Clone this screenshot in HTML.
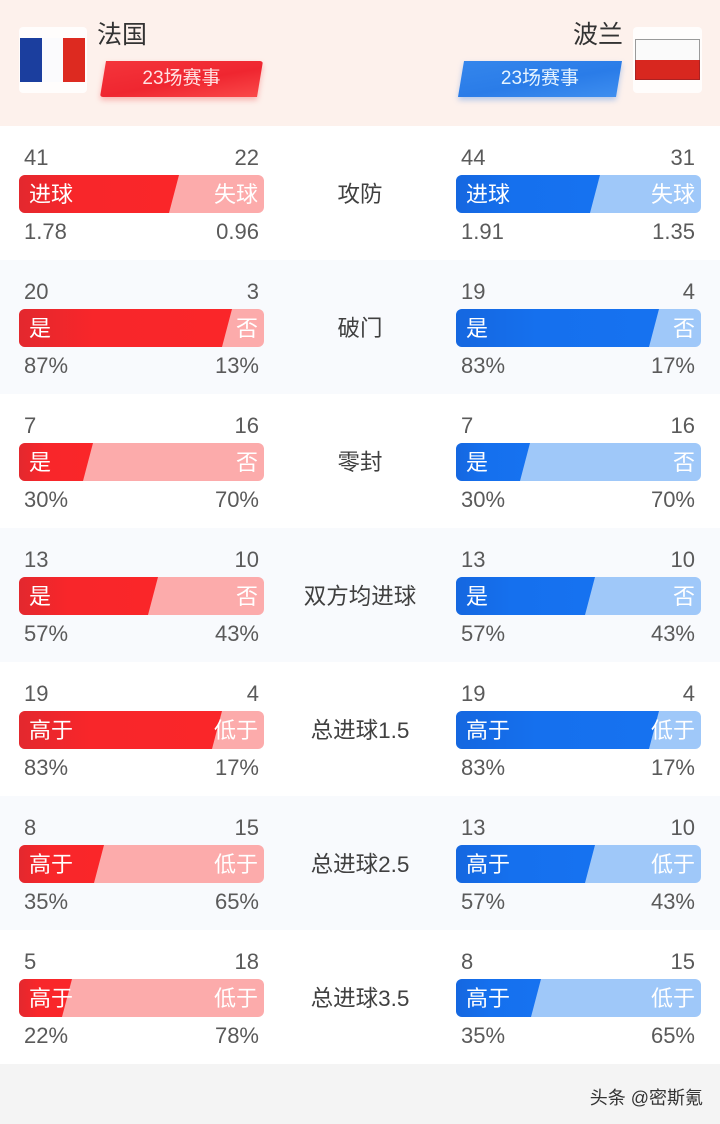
<!DOCTYPE html>
<html><head><meta charset="utf-8">
<style>
*{margin:0;padding:0;box-sizing:border-box}
body{width:720px;height:1124px;position:relative;background:#fff;font-family:"Liberation Sans","Noto Sans CJK SC",sans-serif;overflow:hidden}
.abs{position:absolute}
.hdr{left:0;top:0;width:720px;height:126px;background:#fdf1ec}
.row{position:absolute;left:0;width:720px;height:134px}
.alt{background:#f8fafd}
.n{position:absolute;font-size:22px;line-height:22px;color:#5a5a5a;white-space:nowrap}
.bar{position:absolute;width:245px;height:38px;border-radius:6px;overflow:hidden}
.bar .d{position:absolute;left:0;top:0;height:38px}
.bar .l,.bar .r{position:absolute;top:1px;height:38px;line-height:38px;font-size:22px;color:#fff;font-family:"Liberation Sans","Noto Sans CJK SC",sans-serif}
.bar .l{left:10px}
.bar .r{right:6px}
.rb{background:#fcabab}
.rb .d{background:linear-gradient(90deg,#e3282e 0%,#f8262a 35%,#fa2629 100%)}
.bb{background:#9fc8f9}
.bb .d{background:linear-gradient(90deg,#1567e0 0%,#1570ee 40%,#1672f0 100%)}
.c{position:absolute;left:270px;width:180px;text-align:center;height:38px;line-height:38px;font-size:22.5px;color:#404040}
</style></head><body>
<div class="abs hdr"></div>
<!-- France -->
<div class="abs" style="left:19px;top:27px;width:68px;height:66px;background:#fff;border-radius:4px;opacity:.85"></div>
<div class="abs" style="left:20px;top:38px;width:22px;height:44px;background:#1b3e9e"></div>
<div class="abs" style="left:42px;top:38px;width:21px;height:44px;background:#fbfbfd"></div>
<div class="abs" style="left:63px;top:38px;width:22px;height:44px;background:#dd2a20"></div>
<div class="abs" style="left:97px;top:18px;font-size:25px;line-height:30px;color:#333;font-family:'Noto Sans CJK SC',sans-serif">法国</div>
<div class="abs" style="left:100px;top:61px;width:163px;height:36px;filter:drop-shadow(0 3px 3px rgba(240,60,60,.35))">
 <div style="width:163px;height:36px;clip-path:polygon(6px 0,163px 0,157px 100%,0 100%);background:linear-gradient(170deg,#f4353b 0%,#ef2630 55%,#fb4a4a 100%);border-radius:3px"></div>
</div>
<div class="abs" style="left:100px;top:61px;width:163px;height:36px;line-height:36px;text-align:center;font-size:19px;color:#ffe2e2">23场赛事</div>
<!-- Poland -->
<div class="abs" style="left:633px;top:27px;width:69px;height:66px;background:#fff;border-radius:4px;opacity:.85"></div>
<div class="abs" style="left:635px;top:39px;width:65px;height:21px;background:#fafafa;border:1px solid #9a9a9a;border-bottom:none"></div>
<div class="abs" style="left:635px;top:60px;width:65px;height:20px;background:#d8271f;border:1px solid #a22;border-top:none"></div>
<div class="abs" style="left:520px;top:18px;width:103px;text-align:right;font-size:25px;line-height:30px;color:#333;font-family:'Noto Sans CJK SC',sans-serif">波兰</div>
<div class="abs" style="left:458px;top:61px;width:164px;height:36px;filter:drop-shadow(0 3px 3px rgba(40,120,230,.35))">
 <div style="width:164px;height:36px;clip-path:polygon(6px 0,164px 0,158px 100%,0 100%);background:linear-gradient(170deg,#3486ec 0%,#2a7ce8 55%,#3f8ff0 100%)"></div>
</div>
<div class="abs" style="left:458px;top:61px;width:164px;height:36px;line-height:36px;text-align:center;font-size:19px;color:#e6f4ff">23场赛事</div>

<!-- Row 1 -->
<div class="row" style="top:126px">
 <div class="n" style="left:24px;top:21px">41</div><div class="n" style="left:19px;width:240px;text-align:right;top:21px">22</div>
 <div class="bar rb" style="left:19px;top:49px"><div class="d" style="width:160px;clip-path:polygon(0 0,160px 0,150px 100%,0 100%)"></div><span class="l">进球</span><span class="r">失球</span></div>
 <div class="n" style="left:24px;top:95px">1.78</div><div class="n" style="left:19px;width:240px;text-align:right;top:95px">0.96</div>
 <div class="c" style="top:50px">攻防</div>
 <div class="n" style="left:461px;top:21px">44</div><div class="n" style="left:456px;width:239px;text-align:right;top:21px">31</div>
 <div class="bar bb" style="left:456px;top:49px"><div class="d" style="width:144px;clip-path:polygon(0 0,144px 0,134px 100%,0 100%)"></div><span class="l">进球</span><span class="r">失球</span></div>
 <div class="n" style="left:461px;top:95px">1.91</div><div class="n" style="left:456px;width:239px;text-align:right;top:95px">1.35</div>
</div>
<!-- Row 2 -->
<div class="row alt" style="top:260px">
 <div class="n" style="left:24px;top:21px">20</div><div class="n" style="left:19px;width:240px;text-align:right;top:21px">3</div>
 <div class="bar rb" style="left:19px;top:49px"><div class="d" style="width:213px;clip-path:polygon(0 0,213px 0,203px 100%,0 100%)"></div><span class="l">是</span><span class="r">否</span></div>
 <div class="n" style="left:24px;top:95px">87%</div><div class="n" style="left:19px;width:240px;text-align:right;top:95px">13%</div>
 <div class="c" style="top:50px">破门</div>
 <div class="n" style="left:461px;top:21px">19</div><div class="n" style="left:456px;width:239px;text-align:right;top:21px">4</div>
 <div class="bar bb" style="left:456px;top:49px"><div class="d" style="width:203px;clip-path:polygon(0 0,203px 0,193px 100%,0 100%)"></div><span class="l">是</span><span class="r">否</span></div>
 <div class="n" style="left:461px;top:95px">83%</div><div class="n" style="left:456px;width:239px;text-align:right;top:95px">17%</div>
</div>
<!-- Row 3 -->
<div class="row" style="top:394px">
 <div class="n" style="left:24px;top:21px">7</div><div class="n" style="left:19px;width:240px;text-align:right;top:21px">16</div>
 <div class="bar rb" style="left:19px;top:49px"><div class="d" style="width:74px;clip-path:polygon(0 0,74px 0,64px 100%,0 100%)"></div><span class="l">是</span><span class="r">否</span></div>
 <div class="n" style="left:24px;top:95px">30%</div><div class="n" style="left:19px;width:240px;text-align:right;top:95px">70%</div>
 <div class="c" style="top:50px">零封</div>
 <div class="n" style="left:461px;top:21px">7</div><div class="n" style="left:456px;width:239px;text-align:right;top:21px">16</div>
 <div class="bar bb" style="left:456px;top:49px"><div class="d" style="width:74px;clip-path:polygon(0 0,74px 0,64px 100%,0 100%)"></div><span class="l">是</span><span class="r">否</span></div>
 <div class="n" style="left:461px;top:95px">30%</div><div class="n" style="left:456px;width:239px;text-align:right;top:95px">70%</div>
</div>
<!-- Row 4 -->
<div class="row alt" style="top:528px">
 <div class="n" style="left:24px;top:21px">13</div><div class="n" style="left:19px;width:240px;text-align:right;top:21px">10</div>
 <div class="bar rb" style="left:19px;top:49px"><div class="d" style="width:139px;clip-path:polygon(0 0,139px 0,129px 100%,0 100%)"></div><span class="l">是</span><span class="r">否</span></div>
 <div class="n" style="left:24px;top:95px">57%</div><div class="n" style="left:19px;width:240px;text-align:right;top:95px">43%</div>
 <div class="c" style="top:50px">双方均进球</div>
 <div class="n" style="left:461px;top:21px">13</div><div class="n" style="left:456px;width:239px;text-align:right;top:21px">10</div>
 <div class="bar bb" style="left:456px;top:49px"><div class="d" style="width:139px;clip-path:polygon(0 0,139px 0,129px 100%,0 100%)"></div><span class="l">是</span><span class="r">否</span></div>
 <div class="n" style="left:461px;top:95px">57%</div><div class="n" style="left:456px;width:239px;text-align:right;top:95px">43%</div>
</div>
<!-- Row 5 -->
<div class="row" style="top:662px">
 <div class="n" style="left:24px;top:21px">19</div><div class="n" style="left:19px;width:240px;text-align:right;top:21px">4</div>
 <div class="bar rb" style="left:19px;top:49px"><div class="d" style="width:203px;clip-path:polygon(0 0,203px 0,193px 100%,0 100%)"></div><span class="l">高于</span><span class="r">低于</span></div>
 <div class="n" style="left:24px;top:95px">83%</div><div class="n" style="left:19px;width:240px;text-align:right;top:95px">17%</div>
 <div class="c" style="top:50px">总进球1.5</div>
 <div class="n" style="left:461px;top:21px">19</div><div class="n" style="left:456px;width:239px;text-align:right;top:21px">4</div>
 <div class="bar bb" style="left:456px;top:49px"><div class="d" style="width:203px;clip-path:polygon(0 0,203px 0,193px 100%,0 100%)"></div><span class="l">高于</span><span class="r">低于</span></div>
 <div class="n" style="left:461px;top:95px">83%</div><div class="n" style="left:456px;width:239px;text-align:right;top:95px">17%</div>
</div>
<!-- Row 6 -->
<div class="row alt" style="top:796px">
 <div class="n" style="left:24px;top:21px">8</div><div class="n" style="left:19px;width:240px;text-align:right;top:21px">15</div>
 <div class="bar rb" style="left:19px;top:49px"><div class="d" style="width:85px;clip-path:polygon(0 0,85px 0,75px 100%,0 100%)"></div><span class="l">高于</span><span class="r">低于</span></div>
 <div class="n" style="left:24px;top:95px">35%</div><div class="n" style="left:19px;width:240px;text-align:right;top:95px">65%</div>
 <div class="c" style="top:50px">总进球2.5</div>
 <div class="n" style="left:461px;top:21px">13</div><div class="n" style="left:456px;width:239px;text-align:right;top:21px">10</div>
 <div class="bar bb" style="left:456px;top:49px"><div class="d" style="width:139px;clip-path:polygon(0 0,139px 0,129px 100%,0 100%)"></div><span class="l">高于</span><span class="r">低于</span></div>
 <div class="n" style="left:461px;top:95px">57%</div><div class="n" style="left:456px;width:239px;text-align:right;top:95px">43%</div>
</div>
<!-- Row 7 -->
<div class="row" style="top:930px">
 <div class="n" style="left:24px;top:21px">5</div><div class="n" style="left:19px;width:240px;text-align:right;top:21px">18</div>
 <div class="bar rb" style="left:19px;top:49px"><div class="d" style="width:53px;clip-path:polygon(0 0,53px 0,43px 100%,0 100%)"></div><span class="l">高于</span><span class="r">低于</span></div>
 <div class="n" style="left:24px;top:95px">22%</div><div class="n" style="left:19px;width:240px;text-align:right;top:95px">78%</div>
 <div class="c" style="top:50px">总进球3.5</div>
 <div class="n" style="left:461px;top:21px">8</div><div class="n" style="left:456px;width:239px;text-align:right;top:21px">15</div>
 <div class="bar bb" style="left:456px;top:49px"><div class="d" style="width:85px;clip-path:polygon(0 0,85px 0,75px 100%,0 100%)"></div><span class="l">高于</span><span class="r">低于</span></div>
 <div class="n" style="left:461px;top:95px">35%</div><div class="n" style="left:456px;width:239px;text-align:right;top:95px">65%</div>
</div>
<!-- Footer -->
<div class="abs" style="left:0;top:1064px;width:720px;height:60px;background:#f4f4f4"></div>
<div class="abs" style="left:540px;top:1086px;width:163px;text-align:right;font-size:18px;line-height:24px;color:#333">头条 @密斯氪</div>
</body></html>
